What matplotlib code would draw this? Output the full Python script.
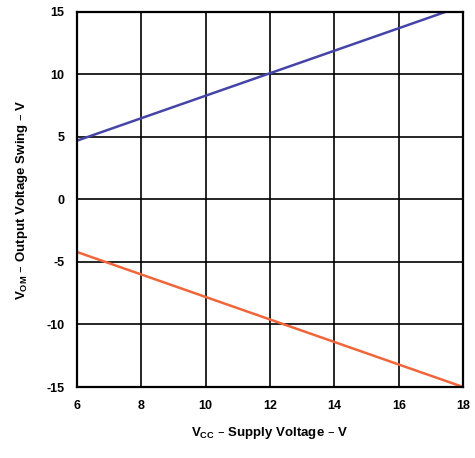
import numpy as np
import matplotlib
matplotlib.use("Agg")
import matplotlib.pyplot as plt

plt.rcParams['font.family'] = ['Liberation Sans', 'DejaVu Sans']
plt.rcParams['axes.unicode_minus'] = False

# data
vcc_pos = [6, 17.45]
vom_pos = [4.7, 15.0]
vcc_neg = [6, 18]
vom_neg = [-4.2, -15.0]

xticks = [6, 8, 10, 12, 14, 16, 18]
yticks = [-15, -10, -5, 0, 5, 10, 15]

fig = plt.figure(figsize=(4.75, 4.58), dpi=100)
ax = fig.add_axes([0.162, 0.155, 0.813, 0.819])

ax.plot(vcc_pos, vom_pos, color="#4545a8", lw=1.8, solid_capstyle='butt')
ax.plot(vcc_neg, vom_neg, color="#f0663a", lw=1.8, solid_capstyle='butt')

ax.set_xlim(6, 18)
ax.set_ylim(-15, 15)
ax.set_xticks(xticks)
ax.set_yticks(yticks)
ax.tick_params(length=0, labelsize=9, pad=9)
for lab in ax.get_xticklabels() + ax.get_yticklabels():
    lab.set_fontweight('bold')
ax.grid(True, color='black', lw=1.2)
for s in ax.spines.values():
    s.set_linewidth(1.6)

ax.set_xlabel(r"V$_{\mathregular{CC}}$ – Supply Voltage – V", fontsize=9.5, fontweight='bold', labelpad=10)
ax.set_ylabel(r"V$_{\mathregular{OM}}$ – Output Voltage Swing – V", fontsize=9.5, fontweight='bold', labelpad=12)

fig.savefig("out.png", dpi=100)
